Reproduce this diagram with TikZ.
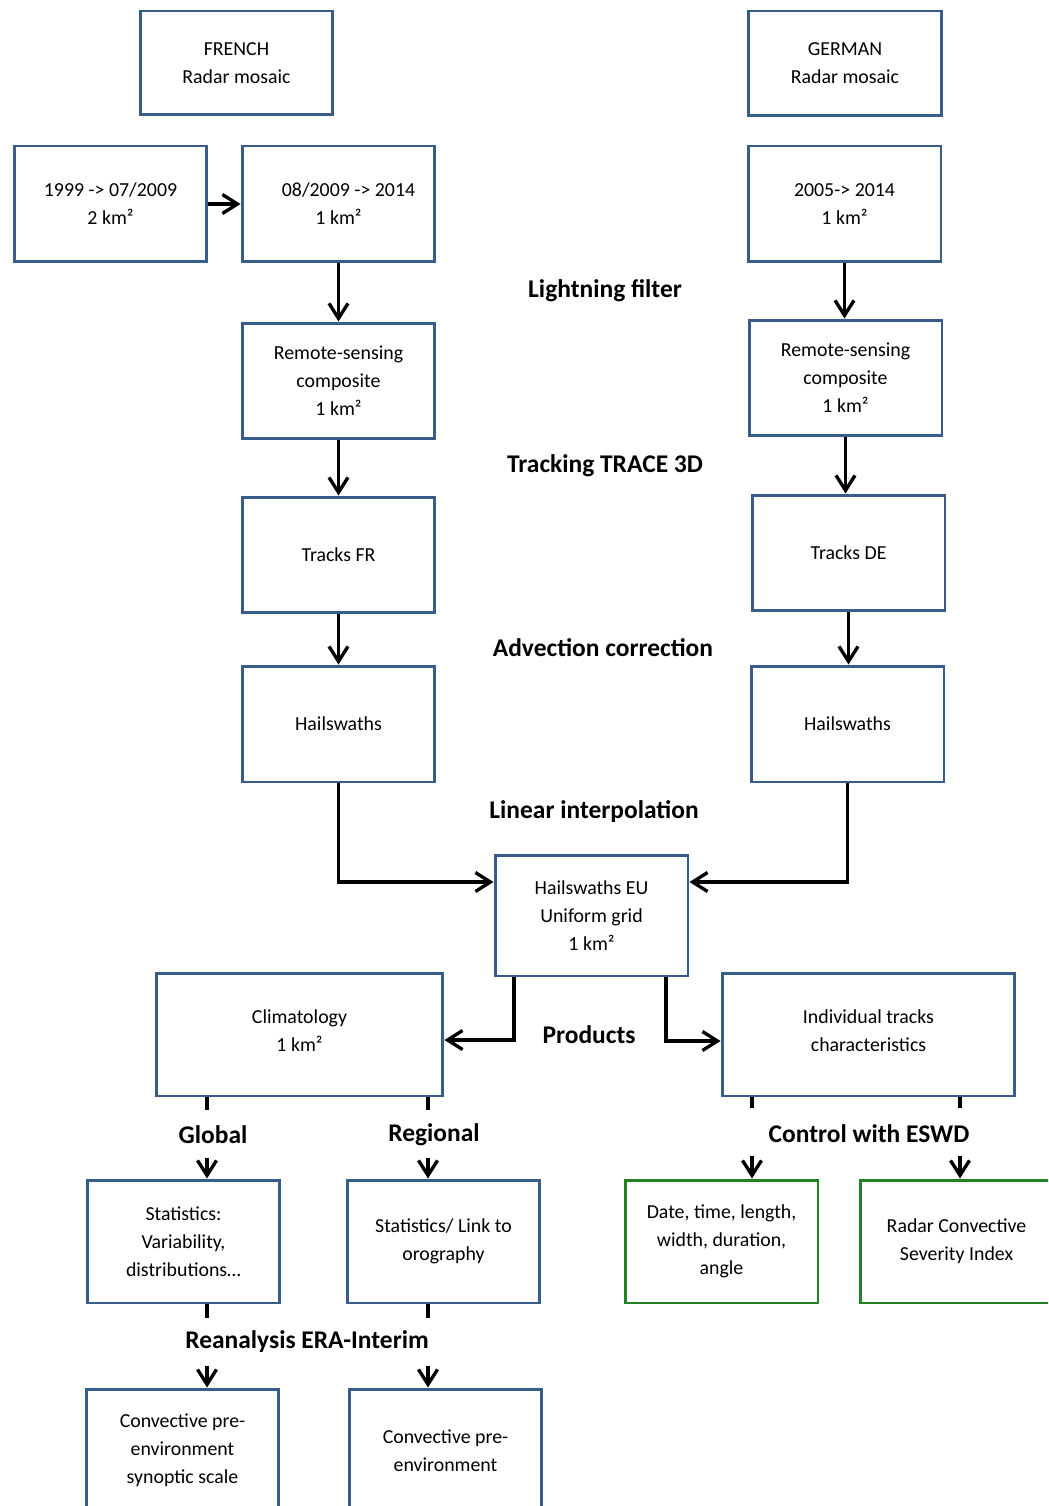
\documentclass[tikz,border=0pt]{standalone}
\usepackage{fontspec}
\setmainfont{Carlito}
\usepackage{xcolor}
\usetikzlibrary{positioning,arrows.meta}
\definecolor{boxblue}{RGB}{56,93,138}
\definecolor{boxgreen}{RGB}{34,130,34}
\tikzset{
  blk/.style  ={rectangle, draw=boxblue, line width=1.7pt, fill=white,
                align=center, inner sep=2pt, font=\fontsize{11.3}{15.9}\selectfont,
                minimum width=3.86cm, minimum height=2.32cm},
  chk/.style  ={blk, draw=boxgreen},
  lbl/.style  ={font=\fontsize{14.5}{16}\selectfont\bfseries, inner sep=0pt},
  arr/.style  ={-{Straight Barb[length=3mm,width=3.8mm]}, line width=1.9pt},
  stub/.style ={line width=1.9pt},
}
\begin{document}
\begin{tikzpicture}[x=0.02cm, y=-0.02cm]
  \clip (0,0) rectangle (1048,1506);

  % radar sources
  \node[blk, minimum height=2.08cm] (fr)   at (236.5,63)  {FRENCH\\Radar mosaic};
  \node[blk, minimum height=2.1cm]  (de)   at (845,63.5)  {GERMAN\\Radar mosaic};
  \node[blk] (fr1)  at (110.5,204) {1999 -> 07/2009\\2 km²};
  \node[blk] (fr2)  at (338.5,204) {\hspace*{0.4cm}08/2009 -> 2014\\1 km²};
  \node[blk] (de1)  at (844.5,204) {2005-> 2014\\1 km²};

  % french chain
  \node[blk] (frRS) at (338.5,381) {Remote-sensing\\composite\\1 km²};
  \node[blk] (frTr) at (338.5,555) {Tracks FR};
  \node[blk] (frHS) at (338.5,724) {Hailswaths};

  % german chain
  \node[blk] (deRS) at (845.5,378) {Remote-sensing\\composite\\1 km²};
  \node[blk] (deTr) at (848.5,553) {Tracks DE};
  \node[blk] (deHS) at (847.5,724) {Hailswaths};

  % merged
  \node[blk, minimum height=2.42cm] (eu) at (591.5,915.5) {Hailswaths EU\\Uniform grid\\1 km²};
  \node[blk, minimum width=5.74cm, minimum height=2.46cm] (clim) at (299.5,1034.5)
    {\raisebox{1.5mm}{Climatology}\\\raisebox{1.5mm}{1 km²}};
  \node[blk, minimum width=5.86cm, minimum height=2.46cm] (ind) at (868.5,1034.5)
    {\raisebox{1.5mm}{Individual tracks}\\\raisebox{1.5mm}{characteristics}};

  % products
  \node[blk, minimum height=2.46cm] (statG) at (183.5,1241.5) {Statistics:\\Variability,\\distributions…};
  \node[blk, minimum height=2.46cm] (statR) at (443.5,1241.5) {Statistics/ Link to\\orography};
  \node[chk, minimum height=2.46cm] (date)  at (721.5,1241.5) {Date, time, length,\\width, duration,\\angle};
  \node[chk, minimum height=2.46cm] (rcsi)  at (956.5,1241.5) {Radar Convective\\Severity Index};
  \node[blk, minimum height=2.46cm] (cpG)   at (182.5,1450.5) {Convective pre-\\environment\\synoptic scale};
  \node[blk, minimum height=2.46cm] (cpR)   at (445.5,1450.5) {Convective pre-\\environment};

  % step labels
  \node[lbl] (lLight) at (605,291)   {Lightning filter};
  \node[lbl] (lTrack) at (605,466)   {Tracking TRACE 3D};
  \node[lbl] (lAdv)   at (603,648)   {Advection correction};
  \node[lbl] (lLin)   at (594,812)   {Linear interpolation};
  \node[lbl] (lProd)  at (589,1035)  {Products};
  \node[lbl] (lGlob)  at (213,1135)  {Global};
  \node[lbl] (lReg)   at (434,1135)  {Regional};
  \node[lbl] (lEswd)  at (869,1134)  {Control with ESWD};
  \node[lbl] (lEra)   at (307,1342)  {Reanalysis ERA-Interim};

  % stub ends
  \coordinate (gA) at (207,1110);  \coordinate (gB) at (207,1158);
  \coordinate (rA) at (428,1110);  \coordinate (rB) at (428,1158);
  \coordinate (dA) at (752,1108);  \coordinate (dB) at (752,1156);
  \coordinate (sA) at (960,1108);  \coordinate (sB) at (960,1156);
  \coordinate (eA) at (207,1318);  \coordinate (eB) at (207,1366);
  \coordinate (fA) at (428,1318);  \coordinate (fB) at (428,1366);

  \draw[arr] (fr1) -- (fr2);
  \draw[arr] (fr2) -- (frRS);
  \draw[arr] (frRS) -- (frTr);
  \draw[arr] (frTr) -- (frHS);
  \draw[arr] (de1.south) -- (de1.south |- deRS.north);
  \draw[arr] (deRS.south) -- (deRS.south |- deTr.north);
  \draw[arr] (deTr.south) -- (deTr.south |- deHS.north);
  \draw[arr] (frHS.south) |- ([yshift=0.67cm]eu.west);
  \draw[arr] (deHS.south) |- ([yshift=0.67cm]eu.east);
  \draw[arr] ([xshift=-1.55cm]eu.south) |- ([yshift=-0.11cm]clim.east);
  \draw[arr] ([xshift=1.49cm]eu.south) |- ([yshift=-0.13cm]ind.west);

  \draw[stub] (clim.south -| gA) -- (gA);  \draw[arr] (gB) -- (gB |- statG.north);
  \draw[stub] (clim.south -| rA) -- (rA);  \draw[arr] (rB) -- (rB |- statR.north);
  \draw[stub] (ind.south -| dA) -- (dA);   \draw[arr] (dB) -- (dB |- date.north);
  \draw[stub] (ind.south -| sA) -- (sA);   \draw[arr] (sB) -- (sB |- rcsi.north);
  \draw[stub] (statG.south -| eA) -- (eA); \draw[arr] (eB) -- (eB |- cpG.north);
  \draw[stub] (statR.south -| fA) -- (fA); \draw[arr] (fB) -- (fB |- cpR.north);
\end{tikzpicture}
\end{document}
